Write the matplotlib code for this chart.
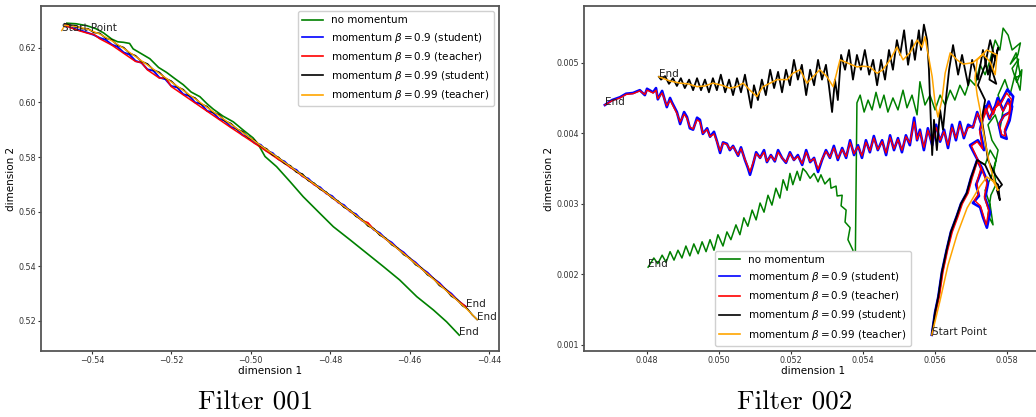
import numpy as np
import matplotlib
matplotlib.use("Agg")
import matplotlib.pyplot as plt

plt.rcParams.update({
    "font.family": "DejaVu Sans",
    "mathtext.fontset": "dejavusans",
    "axes.unicode_minus": True,
})

LABELS = ["no momentum",
          r"momentum $\beta = 0.9$ (student)",
          r"momentum $\beta = 0.9$ (teacher)",
          r"momentum $\beta = 0.99$ (student)",
          r"momentum $\beta = 0.99$ (teacher)"]
COLORS = ["green", "blue", "red", "black", "orange"]
WIDTHS = [1.1, 1.9, 1.0, 1.3, 1.1]

# ---------------- Filter 001 trajectories (dim1, dim2) ----------------
f1_green = [(-0.5463, 0.6290), (-0.5440, 0.6288), (-0.5413, 0.6281), (-0.5390, 0.6270),
            (-0.5371, 0.6255), (-0.5350, 0.6232), (-0.5335, 0.6222), (-0.5320, 0.6220),
            (-0.5305, 0.6216), (-0.5296, 0.6196), (-0.5275, 0.6178), (-0.5254, 0.6160),
            (-0.5232, 0.6128), (-0.5212, 0.6110), (-0.5190, 0.6086), (-0.5170, 0.6065),
            (-0.5150, 0.6038), (-0.5128, 0.6021), (-0.5110, 0.5995), (-0.5094, 0.5975),
            (-0.5070, 0.5950), (-0.5044, 0.5929), (-0.5020, 0.5900), (-0.4994, 0.5870),
            (-0.4981, 0.5846), (-0.4964, 0.5802), (-0.4935, 0.5765), (-0.4901, 0.5710),
            (-0.4868, 0.5655), (-0.4826, 0.5594), (-0.4792, 0.5545), (-0.4750, 0.5497),
            (-0.4708, 0.5448), (-0.4666, 0.5399), (-0.4625, 0.5350), (-0.4582, 0.5289),
            (-0.4540, 0.5240), (-0.4507, 0.5197), (-0.4475, 0.5148)]

f1_blue = [(-0.5468, 0.6283), (-0.5455, 0.6276), (-0.5440, 0.6268), (-0.5425, 0.6262),
           (-0.5410, 0.6255), (-0.5395, 0.6247), (-0.5380, 0.6236), (-0.5365, 0.6229),
           (-0.5350, 0.6212), (-0.5335, 0.6203), (-0.5320, 0.6183), (-0.5305, 0.6175),
           (-0.5290, 0.6152), (-0.5275, 0.6145), (-0.5260, 0.6121), (-0.5245, 0.6116),
           (-0.5230, 0.6091), (-0.5215, 0.6085), (-0.5200, 0.6060), (-0.5185, 0.6055),
           (-0.5170, 0.6030), (-0.5155, 0.6024), (-0.5140, 0.6000), (-0.5125, 0.5994),
           (-0.5110, 0.5969), (-0.5095, 0.5963), (-0.5080, 0.5940), (-0.5065, 0.5933),
           (-0.5050, 0.5910), (-0.5035, 0.5903), (-0.5020, 0.5880), (-0.5005, 0.5874),
           (-0.4990, 0.5851), (-0.4975, 0.5845), (-0.4960, 0.5822), (-0.4945, 0.5815),
           (-0.4930, 0.5792), (-0.4915, 0.5784), (-0.4900, 0.5762), (-0.4885, 0.5753),
           (-0.4870, 0.5730), (-0.4855, 0.5721), (-0.4840, 0.5699), (-0.4825, 0.5689),
           (-0.4810, 0.5667), (-0.4795, 0.5657), (-0.4780, 0.5634), (-0.4765, 0.5624),
           (-0.4750, 0.5601), (-0.4735, 0.5591), (-0.4720, 0.5568), (-0.4705, 0.5556),
           (-0.4690, 0.5534), (-0.4675, 0.5522), (-0.4660, 0.5500), (-0.4645, 0.5487),
           (-0.4630, 0.5465), (-0.4615, 0.5451), (-0.4600, 0.5429), (-0.4585, 0.5414),
           (-0.4570, 0.5392), (-0.4555, 0.5377), (-0.4540, 0.5355), (-0.4525, 0.5339),
           (-0.4510, 0.5316), (-0.4495, 0.5300), (-0.4480, 0.5277), (-0.4468, 0.5262),
           (-0.4458, 0.5252)]

f1_red = [(-0.5468, 0.6282), (-0.5440, 0.6266), (-0.5410, 0.6253), (-0.5395, 0.6249),
          (-0.5380, 0.6233), (-0.5350, 0.6210), (-0.5320, 0.6180), (-0.5290, 0.6150),
          (-0.5275, 0.6146), (-0.5260, 0.6119), (-0.5230, 0.6089), (-0.5215, 0.6090),
          (-0.5200, 0.6058), (-0.5170, 0.6028), (-0.5140, 0.5998), (-0.5110, 0.5968),
          (-0.5080, 0.5938), (-0.5050, 0.5908), (-0.5020, 0.5879), (-0.4990, 0.5850),
          (-0.4960, 0.5821), (-0.4930, 0.5791), (-0.4900, 0.5762), (-0.4870, 0.5731),
          (-0.4840, 0.5699), (-0.4810, 0.5668), (-0.4780, 0.5635), (-0.4750, 0.5602),
          (-0.4720, 0.5568), (-0.4705, 0.5560), (-0.4690, 0.5535), (-0.4660, 0.5500),
          (-0.4630, 0.5465), (-0.4600, 0.5429), (-0.4570, 0.5392), (-0.4540, 0.5355),
          (-0.4510, 0.5316), (-0.4480, 0.5277), (-0.4458, 0.5252)]

f1_black = [(-0.5468, 0.6288), (-0.5455, 0.6283), (-0.5440, 0.6281), (-0.5425, 0.6270),
            (-0.5410, 0.6270), (-0.5395, 0.6256), (-0.5380, 0.6253), (-0.5365, 0.6235),
            (-0.5350, 0.6229), (-0.5335, 0.6209), (-0.5320, 0.6201), (-0.5305, 0.6180),
            (-0.5290, 0.6171), (-0.5275, 0.6150), (-0.5260, 0.6141), (-0.5245, 0.6119),
            (-0.5230, 0.6110), (-0.5215, 0.6088), (-0.5200, 0.6078), (-0.5185, 0.6057),
            (-0.5170, 0.6047), (-0.5155, 0.6025), (-0.5140, 0.6016), (-0.5125, 0.5994),
            (-0.5110, 0.5985), (-0.5095, 0.5963), (-0.5080, 0.5955), (-0.5065, 0.5932),
            (-0.5050, 0.5923), (-0.5035, 0.5902), (-0.5020, 0.5893), (-0.5005, 0.5870),
            (-0.4990, 0.5861), (-0.4975, 0.5840), (-0.4960, 0.5830), (-0.4945, 0.5808),
            (-0.4930, 0.5799), (-0.4915, 0.5777), (-0.4900, 0.5768), (-0.4885, 0.5745),
            (-0.4870, 0.5738), (-0.4855, 0.5714), (-0.4840, 0.5704), (-0.4825, 0.5682),
            (-0.4810, 0.5672), (-0.4795, 0.5650), (-0.4780, 0.5639), (-0.4765, 0.5616),
            (-0.4750, 0.5606), (-0.4735, 0.5583), (-0.4720, 0.5572), (-0.4705, 0.5548),
            (-0.4690, 0.5538), (-0.4675, 0.5514), (-0.4660, 0.5503), (-0.4645, 0.5479),
            (-0.4630, 0.5467), (-0.4615, 0.5443), (-0.4600, 0.5431), (-0.4585, 0.5406),
            (-0.4570, 0.5394), (-0.4555, 0.5369), (-0.4540, 0.5356), (-0.4525, 0.5330),
            (-0.4510, 0.5317), (-0.4495, 0.5291), (-0.4480, 0.5278), (-0.4467, 0.5256),
            (-0.4455, 0.5245), (-0.4442, 0.5222), (-0.4430, 0.5205)]

f1_orange = [(-0.5476, 0.6263), (-0.5468, 0.6283), (-0.5440, 0.6278), (-0.5410, 0.6268),
             (-0.5380, 0.6250), (-0.5350, 0.6226), (-0.5320, 0.6198), (-0.5290, 0.6168),
             (-0.5260, 0.6137), (-0.5230, 0.6106), (-0.5200, 0.6075), (-0.5170, 0.6044),
             (-0.5140, 0.6013), (-0.5110, 0.5982), (-0.5080, 0.5951), (-0.5050, 0.5920),
             (-0.5020, 0.5889), (-0.4990, 0.5858), (-0.4960, 0.5827), (-0.4930, 0.5796),
             (-0.4900, 0.5765), (-0.4870, 0.5733), (-0.4840, 0.5701), (-0.4810, 0.5669),
             (-0.4780, 0.5636), (-0.4750, 0.5603), (-0.4720, 0.5569), (-0.4690, 0.5535),
             (-0.4660, 0.5500), (-0.4630, 0.5464), (-0.4600, 0.5428), (-0.4570, 0.5391),
             (-0.4540, 0.5353), (-0.4510, 0.5314), (-0.4480, 0.5275), (-0.4455, 0.5242),
             (-0.4430, 0.5205)]

# ---------------- Filter 002 trajectories ----------------
# common climb out of the start point
f2_arc = [(0.05592, 0.00114), (0.05601, 0.00146), (0.05610, 0.00168), (0.05620, 0.00203),
          (0.05633, 0.00234), (0.05645, 0.00260), (0.05661, 0.00282), (0.05673, 0.00300),
          (0.05689, 0.00315), (0.05701, 0.00337), (0.05718, 0.00362)]

f2_green = [(0.05740, 0.00355), (0.05754, 0.00376), (0.05770, 0.00362), (0.05759, 0.00341),
            (0.05740, 0.00319), (0.05754, 0.00298), (0.05762, 0.00270), (0.05748, 0.00284),
            (0.05756, 0.00312), (0.05770, 0.00327), (0.05765, 0.00348), (0.05776, 0.00376),
            (0.05759, 0.00390), (0.05748, 0.00412), (0.05768, 0.00426), (0.05781, 0.00405),
            (0.05790, 0.00433), (0.05776, 0.00454), (0.05795, 0.00476), (0.05809, 0.00454),
            (0.05823, 0.00483), (0.05837, 0.00461), (0.05842, 0.00490), (0.05828, 0.00472),
            (0.05815, 0.00492), (0.05833, 0.00505), (0.05822, 0.00478), (0.05838, 0.00482),
            (0.05826, 0.00514), (0.05810, 0.00498), (0.05831, 0.00511),
            (0.05838, 0.00528), (0.05815, 0.00518), (0.05804, 0.00539), (0.05790, 0.00549),
            (0.05781, 0.00518), (0.05768, 0.00532), (0.05754, 0.00504), (0.05740, 0.00483),
            (0.05726, 0.00497), (0.05712, 0.00468), (0.05698, 0.00476), (0.05684, 0.00454),
            (0.05670, 0.00468), (0.05656, 0.00447), (0.05643, 0.00461), (0.05629, 0.00440),
            (0.05615, 0.00454), (0.05601, 0.00433), (0.05587, 0.00454), (0.05573, 0.00440),
            (0.05559, 0.00473), (0.05551, 0.00426), (0.05537, 0.00454), (0.05523, 0.00436),
            (0.05512, 0.00461), (0.05498, 0.00433), (0.05484, 0.00450), (0.05470, 0.00430),
            (0.05459, 0.00454), (0.05448, 0.00436), (0.05437, 0.00458), (0.05426, 0.00433),
            (0.05415, 0.00447), (0.05404, 0.00430), (0.05393, 0.00454), (0.05384, 0.00443),
            (0.05379, 0.00196), (0.05368, 0.00217), (0.05373, 0.00234), (0.05359, 0.00249),
            (0.05365, 0.00266), (0.05351, 0.00274), (0.05354, 0.00291), (0.05340, 0.00297),
            (0.05343, 0.00312), (0.05329, 0.00311), (0.05326, 0.00325), (0.05312, 0.00322),
            (0.05309, 0.00336), (0.05295, 0.00328), (0.05284, 0.00341), (0.05276, 0.00331),
            (0.05265, 0.00343), (0.05254, 0.00336), (0.05243, 0.00345), (0.05234, 0.00350),
            (0.05226, 0.00333), (0.05218, 0.00346), (0.05206, 0.00327), (0.05198, 0.00343),
            (0.05190, 0.00319), (0.05179, 0.00334), (0.05170, 0.00308), (0.05159, 0.00322),
            (0.05148, 0.00298), (0.05137, 0.00312), (0.05126, 0.00288), (0.05115, 0.00301),
            (0.05104, 0.00277), (0.05093, 0.00291), (0.05081, 0.00268), (0.05070, 0.00280),
            (0.05059, 0.00256), (0.05048, 0.00270), (0.05034, 0.00249), (0.05023, 0.00260),
            (0.05012, 0.00240), (0.04998, 0.00256), (0.04987, 0.00234), (0.04976, 0.00249),
            (0.04965, 0.00232), (0.04954, 0.00246), (0.04943, 0.00229), (0.04931, 0.00243),
            (0.04920, 0.00226), (0.04909, 0.00240), (0.04898, 0.00223), (0.04887, 0.00234),
            (0.04876, 0.00220), (0.04865, 0.00232), (0.04854, 0.00217), (0.04843, 0.00227),
            (0.04831, 0.00215), (0.04820, 0.00223), (0.04804, 0.00210)]

f2_blue = [(0.05731, 0.00348), (0.05715, 0.00327), (0.05723, 0.00311), (0.05706, 0.00301),
           (0.05726, 0.00295), (0.05734, 0.00281), (0.05745, 0.00266), (0.05754, 0.00288),
           (0.05740, 0.00308), (0.05748, 0.00329), (0.05731, 0.00351), (0.05712, 0.00369),
           (0.05698, 0.00383), (0.05720, 0.00390), (0.05737, 0.00376), (0.05726, 0.00405),
           (0.05735, 0.00425), (0.05750, 0.00445), (0.05762, 0.00428), (0.05775, 0.00450),
           (0.05790, 0.00432), (0.05805, 0.00448), (0.05815, 0.00438), (0.05808, 0.00418),
           (0.05795, 0.00402), (0.05800, 0.00392), (0.05785, 0.00395), (0.05778, 0.00412),
           (0.05792, 0.00425), (0.05810, 0.00430), (0.05818, 0.00452), (0.05802, 0.00462),
           (0.05785, 0.00445), (0.05768, 0.00438), (0.05752, 0.00420), (0.05740, 0.00438),
           (0.05728, 0.00415), (0.05718, 0.00430), (0.05706, 0.00408),
           (0.05693, 0.00412), (0.05681, 0.00393), (0.05670, 0.00416), (0.05659, 0.00390),
           (0.05648, 0.00412), (0.05637, 0.00379), (0.05626, 0.00405), (0.05615, 0.00388),
           (0.05604, 0.00412), (0.05593, 0.00383), (0.05581, 0.00407), (0.05570, 0.00376),
           (0.05559, 0.00405), (0.05551, 0.00390), (0.05543, 0.00422), (0.05531, 0.00383),
           (0.05520, 0.00397), (0.05509, 0.00373), (0.05498, 0.00393), (0.05487, 0.00376),
           (0.05476, 0.00397), (0.05465, 0.00369), (0.05454, 0.00390), (0.05442, 0.00376),
           (0.05431, 0.00396), (0.05420, 0.00373), (0.05409, 0.00390), (0.05398, 0.00365),
           (0.05387, 0.00383), (0.05376, 0.00369), (0.05365, 0.00390), (0.05354, 0.00365),
           (0.05343, 0.00379), (0.05331, 0.00362), (0.05320, 0.00382), (0.05309, 0.00365),
           (0.05298, 0.00376), (0.05287, 0.00362), (0.05276, 0.00345), (0.05265, 0.00365),
           (0.05254, 0.00359), (0.05243, 0.00376), (0.05232, 0.00355), (0.05220, 0.00369),
           (0.05209, 0.00362), (0.05198, 0.00373), (0.05187, 0.00358), (0.05176, 0.00365),
           (0.05165, 0.00376), (0.05156, 0.00360), (0.05145, 0.00369), (0.05134, 0.00359),
           (0.05126, 0.00376), (0.05115, 0.00365), (0.05104, 0.00373), (0.05095, 0.00355),
           (0.05087, 0.00341), (0.05081, 0.00351), (0.05073, 0.00362), (0.05062, 0.00380),
           (0.05054, 0.00368), (0.05040, 0.00382), (0.05031, 0.00376), (0.05023, 0.00385),
           (0.05012, 0.00387), (0.05004, 0.00372), (0.04995, 0.00389), (0.04987, 0.00402),
           (0.04976, 0.00395), (0.04968, 0.00407), (0.04956, 0.00399), (0.04948, 0.00419),
           (0.04940, 0.00422), (0.04929, 0.00405), (0.04920, 0.00407), (0.04912, 0.00423),
           (0.04904, 0.00430), (0.04893, 0.00413), (0.04884, 0.00430), (0.04870, 0.00444),
           (0.04865, 0.00450), (0.04856, 0.00437), (0.04843, 0.00460), (0.04831, 0.00448),
           (0.04826, 0.00464), (0.04818, 0.00458), (0.04801, 0.00463), (0.04795, 0.00454),
           (0.04781, 0.00461), (0.04762, 0.00457), (0.04743, 0.00456), (0.04726, 0.00451),
           (0.04704, 0.00447), (0.04684, 0.00440)]

f2_red = [(0.05592, 0.00114), (0.05603, 0.00146), (0.05613, 0.00168), (0.05623, 0.00203),
          (0.05636, 0.00234), (0.05649, 0.00260), (0.05665, 0.00282), (0.05677, 0.00300),
          (0.05693, 0.00315), (0.05704, 0.00336), (0.05720, 0.00362),
          (0.05728, 0.00350), (0.05717, 0.00330), (0.05722, 0.00314), (0.05710, 0.00305),
          (0.05727, 0.00297), (0.05735, 0.00284), (0.05743, 0.00270), (0.05750, 0.00290),
          (0.05738, 0.00310), (0.05745, 0.00330), (0.05728, 0.00352), (0.05713, 0.00370),
          (0.05702, 0.00382), (0.05718, 0.00388), (0.05733, 0.00378), (0.05725, 0.00402),
          (0.05736, 0.00422), (0.05751, 0.00440), (0.05763, 0.00427), (0.05776, 0.00446),
          (0.05790, 0.00431), (0.05803, 0.00444), (0.05811, 0.00436), (0.05805, 0.00420),
          (0.05794, 0.00405), (0.05797, 0.00396), (0.05786, 0.00398), (0.05779, 0.00413),
          (0.05792, 0.00424), (0.05806, 0.00429), (0.05813, 0.00448), (0.05800, 0.00457),
          (0.05785, 0.00443), (0.05768, 0.00436), (0.05753, 0.00421), (0.05741, 0.00435),
          (0.05729, 0.00416), (0.05719, 0.00428), (0.05707, 0.00409),
          (0.05693, 0.00408), (0.05681, 0.00396), (0.05670, 0.00412), (0.05659, 0.00393),
          (0.05648, 0.00408), (0.05637, 0.00383), (0.05626, 0.00402), (0.05615, 0.00390),
          (0.05604, 0.00408), (0.05593, 0.00386), (0.05581, 0.00404), (0.05570, 0.00380),
          (0.05559, 0.00402), (0.05551, 0.00391), (0.05543, 0.00416), (0.05531, 0.00386),
          (0.05520, 0.00395), (0.05509, 0.00376), (0.05498, 0.00391), (0.05487, 0.00378),
          (0.05476, 0.00394), (0.05465, 0.00372), (0.05454, 0.00388), (0.05442, 0.00377),
          (0.05431, 0.00393), (0.05420, 0.00375), (0.05409, 0.00387), (0.05398, 0.00368),
          (0.05387, 0.00381), (0.05376, 0.00371), (0.05365, 0.00387), (0.05354, 0.00367),
          (0.05343, 0.00377), (0.05331, 0.00364), (0.05320, 0.00379), (0.05309, 0.00366),
          (0.05298, 0.00374), (0.05287, 0.00363), (0.05276, 0.00349), (0.05265, 0.00364),
          (0.05254, 0.00360), (0.05243, 0.00373), (0.05232, 0.00357), (0.05220, 0.00367),
          (0.05209, 0.00362), (0.05198, 0.00371), (0.05187, 0.00359), (0.05176, 0.00365),
          (0.05165, 0.00373), (0.05156, 0.00361), (0.05145, 0.00368), (0.05134, 0.00360),
          (0.05126, 0.00373), (0.05115, 0.00365), (0.05104, 0.00371), (0.05095, 0.00357),
          (0.05087, 0.00345), (0.05081, 0.00353), (0.05073, 0.00363), (0.05062, 0.00378),
          (0.05054, 0.00369), (0.05040, 0.00381), (0.05031, 0.00377), (0.05023, 0.00384),
          (0.05012, 0.00386), (0.05004, 0.00375), (0.04995, 0.00388), (0.04987, 0.00399),
          (0.04976, 0.00395), (0.04968, 0.00405), (0.04956, 0.00400), (0.04948, 0.00416),
          (0.04940, 0.00419), (0.04929, 0.00406), (0.04920, 0.00409), (0.04912, 0.00421),
          (0.04904, 0.00427), (0.04893, 0.00416), (0.04884, 0.00428), (0.04870, 0.00442),
          (0.04865, 0.00447), (0.04856, 0.00439), (0.04843, 0.00457), (0.04831, 0.00449),
          (0.04826, 0.00461), (0.04818, 0.00457), (0.04801, 0.00461), (0.04795, 0.00455),
          (0.04781, 0.00460), (0.04762, 0.00456), (0.04743, 0.00455), (0.04726, 0.00450),
          (0.04704, 0.00446), (0.04684, 0.00440)]

f2_black = [(0.05740, 0.00355), (0.05759, 0.00334), (0.05776, 0.00327), (0.05781, 0.00305),
            (0.05773, 0.00319), (0.05787, 0.00327), (0.05768, 0.00341), (0.05748, 0.00362),
            (0.05740, 0.00390), (0.05731, 0.00419), (0.05740, 0.00447), (0.05720, 0.00468),
            (0.05740, 0.00497), (0.05754, 0.00532), (0.05768, 0.00504), (0.05776, 0.00521),
            (0.05760, 0.00488), (0.05771, 0.00470), (0.05752, 0.00476), (0.05762, 0.00515),
            (0.05748, 0.00483),
            (0.05734, 0.00518), (0.05720, 0.00476), (0.05704, 0.00504), (0.05693, 0.00468),
            (0.05676, 0.00511), (0.05665, 0.00483), (0.05651, 0.00525), (0.05640, 0.00490),
            (0.05631, 0.00447), (0.05623, 0.00405), (0.05615, 0.00433), (0.05606, 0.00376),
            (0.05598, 0.00419), (0.05593, 0.00369), (0.05587, 0.00447), (0.05584, 0.00490),
            (0.05579, 0.00532), (0.05570, 0.00554), (0.05562, 0.00518), (0.05556, 0.00546),
            (0.05545, 0.00504), (0.05537, 0.00532), (0.05526, 0.00497), (0.05515, 0.00546),
            (0.05504, 0.00511), (0.05495, 0.00532), (0.05484, 0.00490), (0.05473, 0.00518),
            (0.05462, 0.00476), (0.05451, 0.00504), (0.05440, 0.00468), (0.05429, 0.00504),
            (0.05418, 0.00483), (0.05406, 0.00518), (0.05395, 0.00490), (0.05384, 0.00511),
            (0.05373, 0.00476), (0.05362, 0.00518), (0.05351, 0.00490), (0.05340, 0.00511),
            (0.05331, 0.00447), (0.05323, 0.00476), (0.05315, 0.00430), (0.05306, 0.00468),
            (0.05298, 0.00497), (0.05287, 0.00476), (0.05276, 0.00504), (0.05265, 0.00468),
            (0.05254, 0.00490), (0.05243, 0.00454), (0.05231, 0.00497), (0.05220, 0.00476),
            (0.05209, 0.00504), (0.05198, 0.00468), (0.05187, 0.00490), (0.05176, 0.00458),
            (0.05165, 0.00487), (0.05154, 0.00464), (0.05143, 0.00490), (0.05131, 0.00454),
            (0.05120, 0.00476), (0.05109, 0.00447), (0.05098, 0.00468), (0.05090, 0.00436),
            (0.05081, 0.00461), (0.05073, 0.00483), (0.05062, 0.00458), (0.05051, 0.00478),
            (0.05040, 0.00454), (0.05029, 0.00476), (0.05018, 0.00458), (0.05006, 0.00483),
            (0.04995, 0.00461), (0.04984, 0.00478), (0.04973, 0.00458), (0.04962, 0.00476),
            (0.04951, 0.00461), (0.04940, 0.00478), (0.04929, 0.00461), (0.04918, 0.00476),
            (0.04906, 0.00464), (0.04895, 0.00478), (0.04884, 0.00467), (0.04873, 0.00478),
            (0.04862, 0.00470), (0.04851, 0.00481), (0.04840, 0.00476), (0.04834, 0.00480)]

f2_orange = [(0.05592, 0.00114), (0.05615, 0.00163), (0.05637, 0.00213), (0.05662, 0.00256),
             (0.05690, 0.00294), (0.05726, 0.00325), (0.05745, 0.00338), (0.05762, 0.00332),
             (0.05776, 0.00319), (0.05768, 0.00329), (0.05754, 0.00352), (0.05743, 0.00380),
             (0.05734, 0.00405), (0.05726, 0.00433), (0.05718, 0.00454), (0.05712, 0.00478),
             (0.05718, 0.00504), (0.05745, 0.00518), (0.05773, 0.00511), (0.05768, 0.00483),
             (0.05754, 0.00501), (0.05734, 0.00512), (0.05706, 0.00500), (0.05679, 0.00498),
             (0.05662, 0.00504), (0.05643, 0.00514), (0.05629, 0.00485), (0.05620, 0.00447),
             (0.05609, 0.00423), (0.05601, 0.00443), (0.05593, 0.00480), (0.05581, 0.00514),
             (0.05573, 0.00537), (0.05565, 0.00522), (0.05551, 0.00532), (0.05531, 0.00514),
             (0.05512, 0.00504), (0.05495, 0.00522), (0.05476, 0.00504), (0.05456, 0.00490),
             (0.05440, 0.00485), (0.05420, 0.00494), (0.05401, 0.00495), (0.05384, 0.00494),
             (0.05356, 0.00500), (0.05337, 0.00504), (0.05318, 0.00466), (0.05301, 0.00480),
             (0.05281, 0.00490), (0.05262, 0.00480), (0.05245, 0.00471), (0.05226, 0.00490),
             (0.05206, 0.00485), (0.05190, 0.00476), (0.05162, 0.00476), (0.05143, 0.00471),
             (0.05123, 0.00466), (0.05106, 0.00452), (0.05087, 0.00461), (0.05068, 0.00471),
             (0.05051, 0.00466), (0.05031, 0.00464), (0.05009, 0.00468), (0.04984, 0.00471),
             (0.04962, 0.00467), (0.04940, 0.00466), (0.04915, 0.00470), (0.04893, 0.00471),
             (0.04865, 0.00474), (0.04834, 0.00480)]

panel1 = [f1_green, f1_blue, f1_red, f1_black, f1_orange]
panel2 = [f2_arc + f2_green, f2_arc + f2_blue, f2_red, f2_arc + f2_black, f2_orange]

W, H = 1036, 417
fig = plt.figure(figsize=(W / 100, H / 100), dpi=100)
ax1 = fig.add_axes([41 / W, 66 / H, 458 / W, 345 / H])
ax2 = fig.add_axes([584 / W, 66 / H, 458 / W, 345 / H])


def draw(ax, trajs, start_idx, end_idx, legend_loc, widths):
    for pts, c, lab, lw in zip(trajs, COLORS, LABELS, widths):
        a = np.array(pts)
        ax.plot(a[:, 0], a[:, 1], color=c, lw=lw, label=lab)
    s = np.array(trajs[start_idx])[0]
    ax.text(s[0], s[1], "Start Point", fontsize=7.5, color="#222222")
    for i in end_idx:
        e = np.array(trajs[i])[-1]
        ax.text(e[0], e[1], "End", fontsize=7.5, color="#222222")
    ax.set_xlabel("dimension 1", fontsize=7.5, labelpad=1)
    ax.set_ylabel("dimension 2", fontsize=7.5, labelpad=2)
    ax.tick_params(labelsize=5.8, length=2, pad=1.5, colors="#333333")
    for sp in ax.spines.values():
        sp.set_color("#555555")
        sp.set_linewidth(1.3)
    leg = ax.legend(loc=legend_loc, fontsize=7.5, handlelength=2.0, framealpha=1.0,
                    edgecolor="#d0d0d0")
    for h in leg.get_lines():
        h.set_linewidth(1.2)


draw(ax1, panel1, 4, [0, 1, 3], "upper right", [1.2, 1.4, 1.1, 1.1, 1.0])
ax1.set_xlim(-0.5528, -0.4375)
ax1.set_ylim(0.509, 0.6353)

draw(ax2, panel2, 4, [0, 1, 3], "lower center", WIDTHS)
ax2.set_xlim(0.04626, 0.05898)
ax2.set_ylim(0.000911, 0.005804)

fig.text(256 / W, 0.018, "Filter 001", family="cmr10", fontsize=19.5, ha="center", va="baseline")
fig.text(795 / W, 0.018, "Filter 002", family="cmr10", fontsize=19.5, ha="center", va="baseline")

fig.savefig("out.png", dpi=100)
